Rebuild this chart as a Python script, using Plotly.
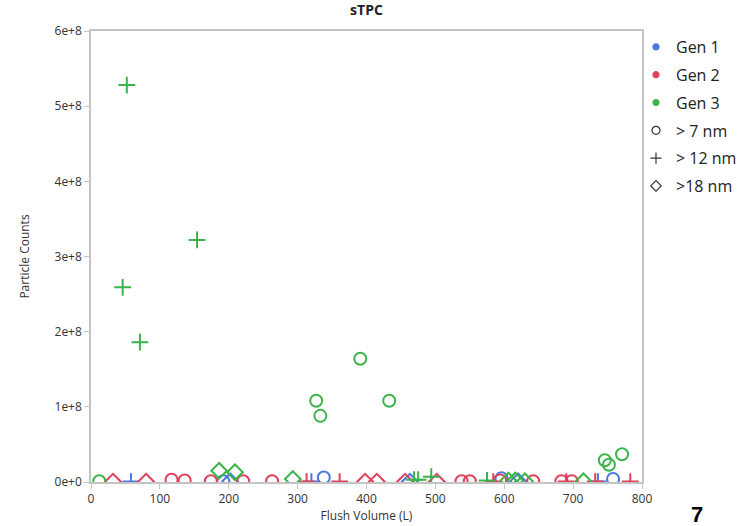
import plotly.graph_objects as go

# ---- data (Flush Volume L, Particle Counts) ----
g1_c7_x = [192, 338, 596, 758]
g1_c7_y = [1e6, 6e6, 5e6, 4e6]
g1_c12_x = [58, 320, 736]
g1_c12_y = [5e5, 5e5, 5e5]
g1_c18_x = [202, 463, 620]
g1_c18_y = [1e6, 5e5, 1e6]

g2_c7_x = [117, 136, 174, 221, 263, 538, 550, 594, 642, 683, 698]
g2_c7_y = [3e6, 2e6, 1e6, 1e6, 1e6, 1e6, 1e6, 2e6, 1e6, 1e6, 1e6]
g2_c12_x = [313, 361, 584, 690, 732, 783]
g2_c12_y = [5e5, 5e5, 5e5, 5e5, 5e5, 5e5]
g2_c18_x = [32, 80, 398, 415, 456, 502]
g2_c18_y = [5e5, 5e5, 5e5, 5e5, 5e5, 5e5]

g3_c7_x = [12, 327, 333, 391, 433, 746, 752, 771]
g3_c7_y = [1e6, 1.08e8, 0.88e8, 1.64e8, 1.08e8, 0.29e8, 0.23e8, 0.37e8]
g3_c12_x = [46, 52, 71, 154, 469, 475, 494, 575]
g3_c12_y = [2.59e8, 5.28e8, 1.86e8, 3.22e8, 3e6, 3e6, 7e6, 2e6]
g3_c18_x = [186, 209, 293, 606, 616, 630, 715]
g3_c18_y = [1.5e7, 1.3e7, 4e6, 2e6, 2e6, 1e6, 1e6]

BLUE = "#4a78e0"
RED = "#e0405a"
GREEN = "#3cb44b"
FONT = "Open Sans"

series = [
    (g1_c7_x, g1_c7_y, BLUE, "circle-open"),
    (g1_c12_x, g1_c12_y, BLUE, "cross-thin-open"),
    (g1_c18_x, g1_c18_y, BLUE, "diamond-open"),
    (g2_c7_x, g2_c7_y, RED, "circle-open"),
    (g2_c12_x, g2_c12_y, RED, "cross-thin-open"),
    (g2_c18_x, g2_c18_y, RED, "diamond-open"),
    (g3_c7_x, g3_c7_y, GREEN, "circle-open"),
    (g3_c12_x, g3_c12_y, GREEN, "cross-thin-open"),
    (g3_c18_x, g3_c18_y, GREEN, "diamond-open"),
]

fig = go.Figure()
for xs, ys, col, sym in series:
    fig.add_trace(go.Scatter(
        x=xs, y=ys, mode="markers", showlegend=False, cliponaxis=True,
        marker=dict(symbol=sym, size=12, color=col, line=dict(width=2, color=col)),
    ))

legend_items = [
    ("Gen 1", "circle", BLUE),
    ("Gen 2", "circle", RED),
    ("Gen 3", "circle", GREEN),
    ("> 7 nm", "circle-open", "#333333"),
    ("> 12 nm", "cross-thin-open", "#333333"),
    (">18 nm", "diamond-open", "#333333"),
]
for i, (name, sym, col) in enumerate(legend_items):
    fig.add_trace(go.Scatter(
        x=[None], y=[None], mode="markers", name=name, legendgroup=f"g{i}",
        marker=dict(symbol=sym, size=6 if sym == "circle" else 8, color=col,
                    line=dict(width=1.2, color=col)),
    ))

axis_common = dict(
    showline=True, linecolor="#c4c4c4", linewidth=1.5, mirror=True,
    showgrid=False, zeroline=False, ticks="outside", ticklen=5,
    tickcolor="#c4c4c4", tickfont=dict(family=FONT, size=12, color="#333333"),
    automargin=False,
)

fig.update_layout(
    width=750, height=526,
    paper_bgcolor="white", plot_bgcolor="white",
    margin=dict(l=91, r=108, t=31, b=44, autoexpand=False),
    title=dict(text="<b>sTPC</b>", x=(91 + 642) / 2 / 750, xanchor="center",
               y=1 - 10 / 526, yanchor="middle",
               font=dict(family=FONT, size=14, color="#222222")),
    xaxis=dict(range=[0, 800], dtick=100,
               title=dict(text="Flush Volume (L)", standoff=4,
                          font=dict(family=FONT, size=12, color="#333333")),
               **axis_common),
    yaxis=dict(range=[0, 6e8], dtick=1e8, tickformat=".0e",
               title=dict(text="Particle Counts", standoff=22,
                          font=dict(family=FONT, size=12, color="#333333")),
               **axis_common),
    legend=dict(xref="container", yref="container",
                x=636 / 750, xanchor="left", y=1 - 30 / 526, yanchor="top",
                font=dict(family=FONT, size=16, color="#222222"),
                itemwidth=30, tracegroupgap=4, bgcolor="rgba(0,0,0,0)"),
    font=dict(family=FONT),
)

fig.add_annotation(
    text="<b>7</b>", xref="paper", yref="paper",
    x=(697 - 91) / 551, y=(482 - 500) / 451, xanchor="center", yanchor="top",
    showarrow=False, font=dict(family="Liberation Sans", size=22, color="black"),
)

fig.write_html("out.html")
